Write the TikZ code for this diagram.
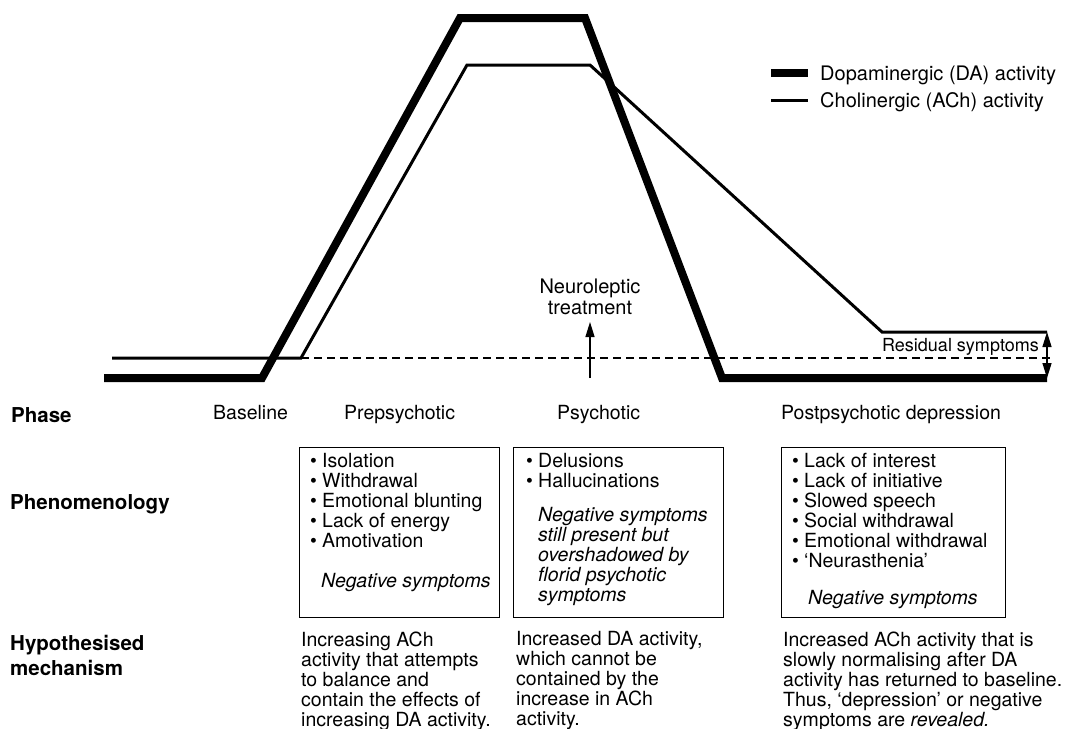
\documentclass[tikz,border=0pt]{standalone}
\usepackage{fontspec}
\setmainfont{TeX Gyre Heros}
\usetikzlibrary{arrows.meta,positioning}
\newcommand{\bul}{\makebox[12pt][l]{\textbullet}}
\newcommand{\ind}{\hspace*{12pt}}

\begin{document}
\begin{tikzpicture}[x=1pt,y=-1pt, every node/.style={font=\fontsize{19.5}{20}\selectfont,inner sep=0pt},
 da/.style={line width=8pt},
 ach/.style={line width=3pt},
 baseln/.style={line width=1.2pt,dash pattern=on 8pt off 5pt},
 lab/.style={anchor=base west,align=left,font=\fontsize{20.5}{25}\selectfont\bfseries},
 phase/.style={anchor=base west},
 box/.style={draw,line width=1.3pt,anchor=north west,minimum height=170pt},
 txt/.style={align=left},
 arr/.style={-{Triangle[length=15pt,width=9pt]},line width=1.3pt}]
\useasboundingbox (0,0) rectangle (1073,728);

% activity curves
\coordinate (c0) at (112,358);\coordinate (c1) at (301,358);\coordinate (c2) at (467,65);
\coordinate (c3) at (590,65);\coordinate (c4) at (882,332);\coordinate (c5) at (1047,332);
\coordinate (d0) at (104,378);\coordinate (d1) at (262,378);\coordinate (d2) at (460,18);
\coordinate (d3) at (585,18);\coordinate (d4) at (722,378);\coordinate (d5) at (1047,378);
\coordinate (e1) at (1052,358);
\draw[baseln](c1)--(e1);
\draw[ach](c0)--(c1)--(c2)--(c3)--(c4)--(c5);
\draw[da](d0)--(d1)--(d2)--(d3)--(d4)--(d5);
\draw[{Triangle[length=15pt,width=9pt]}-{Triangle[length=15pt,width=9pt]},line width=1.3pt](c5)--(d5);
\node[anchor=base east,font=\fontsize{18}{20}\selectfont] (res) at (1039,351) {Residual symptoms};

% treatment
\coordinate (n0) at (590,378);\coordinate (n1) at (590,322);
\draw[arr](n0)--(n1);
\node[align=center,above=7pt of n1,font=\fontsize{20}{21}\selectfont] (neuro) {Neuroleptic\\treatment};

% legend
\coordinate (l1) at (771,73);\coordinate (l2) at (808,73);
\coordinate (l3) at (771,100);\coordinate (l4) at (808,100);
\draw[da](l1)--(l2);\draw[ach](l3)--(l4);
\node[anchor=base west,font=\fontsize{20}{20}\selectfont] (lda) at (820,80) {Dopaminergic (DA) activity};
\node[anchor=base west,font=\fontsize{20}{20}\selectfont] (lach) at (820,107) {Cholinergic (ACh) activity};

% rows
\node[lab] (phase) at (11,422) {Phase};
\node[phase] (pb) at (213,419) {Baseline};
\node[phase] (pp) at (344,419) {Prepsychotic};
\node[phase] (ps) at (557,419) {Psychotic};
\node[phase] (pd) at (781,419) {Postpsychotic depression};
\node[lab] (phen) at (10,509) {Phenomenology};
\node[lab] (mech) at (10,675) {Hypothesised\\mechanism};

% boxes
\node[box,minimum width=200pt] (b1) at (299,447) {};
\node[box,minimum width=210pt] (b2) at (513,447) {};
\node[box,minimum width=224pt] (b3) at (781,447) {};
\node[txt,below right=6pt and 11pt of b1.north west] (s1) {\bul Isolation\\\bul Withdrawal\\\bul Emotional blunting\\\bul Lack of energy\\\bul Amotivation\\[20pt]\hspace*{11pt}\textit{Negative symptoms}};
\node[txt,below right=6pt and 13pt of b2.north west] (s2) {\bul Delusions\\\bul Hallucinations\\[14pt]\ind\textit{Negative symptoms}\\\ind\textit{still present but}\\\ind\textit{overshadowed by}\\\ind\textit{florid psychotic}\\\ind\textit{symptoms}};
\node[txt,below right=6pt and 11pt of b3.north west] (s3) {\bul Lack of interest\\\bul Lack of initiative\\\bul Slowed speech\\\bul Social withdrawal\\\bul Emotional withdrawal\\\bul ‘Neurasthenia’\\[17pt]\hspace*{16pt}\textit{Negative symptoms}};

% mechanisms
\node[txt,below right=13pt and 2pt of b1.south west] (m1) {Increasing ACh\\activity that attempts\\to balance and\\contain the effects of\\increasing DA activity.};
\node[txt,below right=13pt and 3pt of b2.south west] (m2) {Increased DA activity,\\which cannot be\\contained by the\\increase in ACh\\activity.};
\node[txt,below right=13pt and 2pt of b3.south west] (m3) {Increased ACh activity that is\\slowly normalising after DA\\activity has returned to baseline.\\Thus, ‘depression’ or negative\\symptoms are \textit{revealed.}};
\end{tikzpicture}
\end{document}
